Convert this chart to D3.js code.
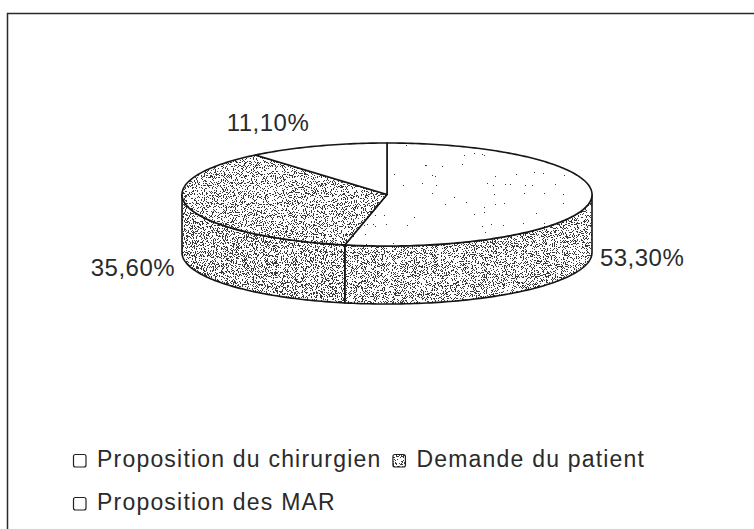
<!DOCTYPE html>
<html>
<head>
<meta charset="utf-8">
<script src="https://cdn.jsdelivr.net/npm/d3@7/dist/d3.min.js"></script>
<style>
  html, body { margin: 0; padding: 0; background: #fff; }
  svg { display: block; }
  text { font-family: "Liberation Sans", Arial, Helvetica, sans-serif; fill: #2a2a2a; }
</style>
</head>
<body>
<svg id="chart" width="754" height="529"></svg>
<script>
// Répartition des motifs (en %)
const categories = ["Proposition du chirurgien", "Demande du patient", "Proposition des MAR"];
const shares = [53.3, 35.6, 11.1];

// Noise threshold of the stipple on each slice (higher = darker grey), top face and side wall
const topGrain = [0.245, 0.43, 0];
const sideGrain = [0.44, 0.45, 0.44];

const W = 754, H = 529;
const svg = d3.select("#chart");

const frLocale = d3.formatLocale({ decimal: ",", thousands: " ", grouping: [3], currency: ["", " €"] });
const fmtPct = v => frLocale.format(".2f")(v) + "%";

// Stippled grey textures built from thresholded noise
const defs = svg.append("defs");
function grainFilter(id, threshold, seed) {
  const f = defs.append("filter").attr("id", id)
    .attr("x", "-5%").attr("y", "-5%").attr("width", "110%").attr("height", "110%")
    .attr("color-interpolation-filters", "sRGB");
  f.append("feTurbulence").attr("type", "fractalNoise").attr("baseFrequency", 1.1)
    .attr("numOctaves", 1).attr("seed", seed).attr("result", "noise");
  // alpha = shift - 4*R, then thresholded at 0.5  ->  dot wherever R < threshold
  const shift = 0.5 + 4 * threshold;
  f.append("feColorMatrix").attr("in", "noise").attr("type", "matrix")
    .attr("values", `0 0 0 0 0.22  0 0 0 0 0.22  0 0 0 0 0.22  -4 0 0 0 ${shift}`)
    .attr("result", "raw");
  f.append("feComponentTransfer").attr("in", "raw").attr("result", "dots")
    .append("feFuncA").attr("type", "discrete").attr("tableValues", "0 1");
  f.append("feComposite").attr("in", "dots").attr("in2", "SourceGraphic")
    .attr("operator", "in").attr("result", "clipped");
  const m = f.append("feMerge");
  m.append("feMergeNode").attr("in", "SourceGraphic");
  m.append("feMergeNode").attr("in", "clipped");
}

// Frame
svg.append("path")
  .attr("d", `M${W + 2},13.5 H7.5 V${H + 2}`)
  .attr("fill", "none").attr("stroke", "#2a2a2a").attr("stroke-width", 1.5);

// 3D pie geometry
const cx = 387, cy = 194.5, rx = 205, ry = 51.5, depth = 58;
const pt = (a, dz = 0) => [cx + rx * Math.sin(a), cy - ry * Math.cos(a) + dz];

const pie = d3.pie().sort(null).startAngle(0).endAngle(2 * Math.PI).value(d => d);
const arcs = pie(shares);

const line = d3.line();
const sample = (a0, a1, dz) => {
  const n = Math.max(2, Math.ceil(Math.abs(a1 - a0) / 0.02));
  return d3.range(n + 1).map(i => pt(a0 + (a1 - a0) * i / n, dz));
};

arcs.forEach((d, i) => {
  grainFilter(`top-${i}`, topGrain[i], 11 + i);
  grainFilter(`side-${i}`, sideGrain[i], 31 + i);
});

const pieG = svg.append("g");

// Side walls (front half only: from 3 o'clock through 6 to 9 o'clock)
arcs.forEach((d, i) => {
  const a0 = Math.max(d.startAngle, Math.PI / 2);
  const a1 = Math.min(d.endAngle, 3 * Math.PI / 2);
  if (a1 <= a0) return;
  const pts = sample(a0, a1, 0).concat(sample(a1, a0, depth));
  const dPath = line(pts) + "Z";
  pieG.append("path").attr("d", dPath).attr("fill", "#fff")
    .attr("filter", sideGrain[i] > 0 ? `url(#side-${i})` : null);
  pieG.append("path").attr("d", dPath).attr("fill", "none")
    .attr("stroke", "#151515").attr("stroke-width", 1.6).attr("stroke-linejoin", "round");
});

// Top faces
arcs.forEach((d, i) => {
  const pts = [[cx, cy]].concat(sample(d.startAngle, d.endAngle, 0));
  const dPath = line(pts) + "Z";
  pieG.append("path").attr("d", dPath).attr("fill", "#fff")
    .attr("filter", topGrain[i] > 0 ? `url(#top-${i})` : null);
  pieG.append("path").attr("d", dPath).attr("fill", "none")
    .attr("stroke", "#151515").attr("stroke-width", 1.6).attr("stroke-linejoin", "round");
});

// Value labels, placed from each slice's mid-angle
const labelNudge = [[9, 66, "start"], [-13, 69, "end"], [-49, -15, "middle"]];
arcs.forEach((d, i) => {
  const mid = (d.startAngle + d.endAngle) / 2;
  const [x, y] = pt(mid);
  const [dx, dy, anchor] = labelNudge[i];
  svg.append("text")
    .attr("x", x + dx).attr("y", y + dy)
    .attr("text-anchor", anchor)
    .attr("font-size", 24).attr("letter-spacing", 0.5)
    .text(fmtPct(d.data));
});

// Legend, flowing left to right and wrapping
const legend = svg.append("g");
const legX0 = 73, legY0 = 467, rowH = 43, legRight = 720;
let lx = legX0, ly = legY0;
categories.forEach((c, i) => {
  const g = legend.append("g");
  const t = g.append("text").attr("font-size", 23).attr("letter-spacing", 1.2).text(c);
  const tw = t.node().getComputedTextLength();
  const itemW = 24 + tw;
  if (lx + itemW > legRight && lx > legX0) { lx = legX0; ly += rowH; }
  g.append("rect").attr("x", lx + 0.5).attr("y", ly - 12.5).attr("width", 12.5).attr("height", 12.5)
    .attr("rx", 2).attr("fill", "#fff")
    .attr("filter", topGrain[i] > 0.3 ? `url(#top-${i})` : null);
  g.append("rect").attr("x", lx + 0.5).attr("y", ly - 12.5).attr("width", 12.5).attr("height", 12.5)
    .attr("rx", 2).attr("fill", "none").attr("stroke", "#222").attr("stroke-width", 1.2);
  t.attr("x", lx + 24).attr("y", ly);
  lx += itemW + 11;
});
</script>
</body>
</html>
